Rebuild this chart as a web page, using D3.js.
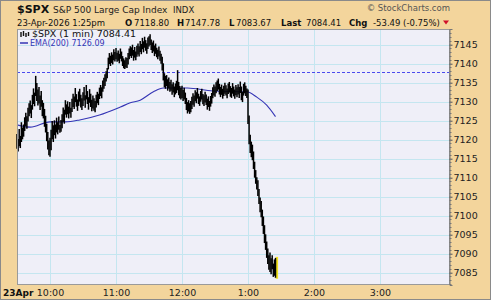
<!DOCTYPE html>
<html>
<head>
<meta charset="utf-8">
<script src="https://cdn.jsdelivr.net/npm/d3@7"></script>
<style>
  body { margin: 0; background: #fff; }
  svg { display: block; }
  text { font-family: "DejaVu Sans", sans-serif; }
</style>
</head>
<body>
<script>
// 1-minute bars from 9:30, highs and lows
var highs = [
  7121.5, 7120.2, 7122.8, 7121.0, 7124.6, 7123.2, 7124.0, 7125.9, 7127.1, 7126.2,
  7128.4, 7129.6, 7130.3, 7129.1, 7131.8, 7133.5, 7132.4, 7136.8, 7134.9, 7133.2,
  7133.9, 7131.6, 7132.8, 7130.4, 7129.7, 7128.1, 7126.3, 7124.2, 7122.0, 7119.8,
  7120.5, 7122.6, 7124.9, 7123.8, 7125.1, 7124.0, 7125.8, 7124.6, 7126.1, 7123.9,
  7125.2, 7126.7, 7128.5, 7127.9, 7130.4, 7129.3, 7130.1, 7128.7, 7129.9, 7128.4,
  7130.8, 7132.1, 7131.4, 7133.6, 7132.0, 7130.6, 7132.7, 7133.4, 7131.8, 7130.9,
  7132.5, 7133.9, 7131.7, 7134.4, 7132.8, 7131.2, 7133.3, 7132.1, 7130.5, 7131.6,
  7130.9, 7130.2, 7131.8, 7132.6, 7132.1, 7133.7, 7134.4, 7133.8, 7135.6, 7136.3,
  7137.2, 7138.0, 7138.9, 7141.6, 7142.8, 7142.1, 7143.0, 7142.4, 7143.8, 7143.1,
  7144.1, 7142.9, 7143.5, 7142.6, 7144.0, 7143.2, 7142.0, 7141.4, 7140.9, 7141.7,
  7141.5, 7142.8, 7144.0, 7144.6, 7144.3, 7145.0, 7143.6, 7144.4, 7143.2, 7144.7,
  7145.3, 7144.6, 7146.0, 7145.2, 7146.8, 7145.9, 7147.1, 7146.2, 7145.4, 7146.9,
  7147.2, 7147.78, 7146.4, 7145.6, 7146.1, 7144.8, 7145.3, 7144.2, 7143.7, 7144.5,
  7143.4, 7142.6, 7141.8, 7140.1, 7137.5, 7136.8, 7137.0, 7135.9, 7136.4, 7135.2,
  7135.8, 7134.6, 7135.1, 7134.0, 7134.8, 7135.5, 7138.3, 7135.2, 7134.1, 7133.6,
  7134.2, 7133.1, 7133.7, 7132.4, 7131.0, 7129.9, 7130.4, 7129.6, 7130.2, 7131.3,
  7132.2, 7131.6, 7133.0, 7132.5, 7133.6, 7132.1, 7131.4, 7132.8, 7133.4, 7132.0,
  7131.7, 7132.6, 7131.9, 7130.8, 7131.4, 7130.2, 7131.5, 7132.3, 7133.8, 7134.5,
  7134.0, 7135.1, 7135.6, 7136.1, 7134.7, 7133.9, 7134.5, 7133.4, 7134.2, 7135.0,
  7134.3, 7133.5, 7134.8, 7135.2, 7134.1, 7133.6, 7134.9, 7134.0, 7133.2, 7134.4,
  7133.8, 7134.6, 7133.9, 7135.3, 7134.0, 7132.6, 7134.7, 7135.1, 7134.2, 7133.5,
  7133.2, 7126.4, 7121.3, 7119.5, 7118.7, 7116.9, 7114.2, 7112.0, 7110.1, 7109.3,
  7107.0, 7104.8, 7103.9, 7101.6, 7099.8, 7097.5, 7095.1, 7093.2, 7091.4, 7089.6,
  7090.3, 7088.8, 7089.6, 7087.4, 7088.5, 7088.9
];
var lows = [
  7117.6, 7116.9, 7118.3, 7117.8, 7119.4, 7120.1, 7120.8, 7122.3, 7123.6, 7122.9,
  7124.8, 7126.2, 7126.9, 7125.7, 7127.9, 7129.4, 7128.8, 7131.5, 7130.2, 7129.0,
  7129.5, 7127.8, 7128.7, 7126.2, 7125.6, 7123.4, 7121.9, 7119.6, 7117.4, 7115.9,
  7115.5, 7117.2, 7120.1, 7119.4, 7121.2, 7120.3, 7121.9, 7121.4, 7122.6, 7121.8,
  7122.1, 7123.0, 7124.7, 7124.2, 7126.6, 7125.8, 7126.7, 7125.6, 7126.9, 7125.8,
  7127.3, 7128.6, 7128.1, 7129.9, 7128.7, 7127.6, 7128.9, 7130.0, 7128.5, 7127.8,
  7128.9, 7130.3, 7128.4, 7130.6, 7129.4, 7127.9, 7129.7, 7128.6, 7127.5, 7128.2,
  7127.6, 7127.2, 7128.5, 7129.6, 7129.1, 7130.7, 7131.5, 7130.9, 7132.6, 7133.4,
  7134.1, 7135.3, 7136.2, 7138.5, 7139.9, 7139.4, 7140.2, 7139.8, 7140.9, 7140.6,
  7141.2, 7140.5, 7140.8, 7140.1, 7141.3, 7140.6, 7139.4, 7138.8, 7138.6, 7139.0,
  7138.9, 7139.8, 7141.2, 7142.0, 7141.5, 7142.1, 7140.8, 7141.6, 7140.9, 7141.8,
  7142.4, 7141.9, 7143.1, 7142.5, 7143.8, 7143.0, 7144.2, 7143.4, 7142.6, 7143.9,
  7144.5, 7144.9, 7143.6, 7142.8, 7143.2, 7142.0, 7142.6, 7141.7, 7141.2, 7141.9,
  7140.8, 7140.0, 7138.2, 7135.6, 7133.8, 7133.4, 7134.1, 7132.9, 7133.5, 7132.6,
  7132.9, 7131.8, 7132.4, 7131.2, 7131.9, 7132.3, 7133.0, 7131.7, 7130.9, 7130.6,
  7131.0, 7130.2, 7130.6, 7129.4, 7127.8, 7126.9, 7127.4, 7126.8, 7127.2, 7128.1,
  7129.2, 7128.7, 7130.1, 7129.6, 7130.8, 7129.4, 7128.9, 7130.0, 7130.6, 7129.3,
  7128.9, 7129.8, 7129.1, 7127.9, 7128.6, 7127.6, 7128.7, 7129.5, 7130.9, 7131.6,
  7131.3, 7132.2, 7132.8, 7133.2, 7131.9, 7131.2, 7131.8, 7130.8, 7131.5, 7132.1,
  7131.6, 7130.9, 7132.0, 7132.4, 7131.3, 7131.0, 7132.1, 7131.4, 7130.8, 7131.7,
  7131.2, 7131.9, 7131.0, 7132.3, 7130.4, 7129.9, 7131.6, 7132.2, 7131.5, 7131.0,
  7124.1, 7118.8, 7116.5, 7115.4, 7114.6, 7112.3, 7110.0, 7108.4, 7106.9, 7105.2,
  7103.1, 7100.9, 7099.6, 7097.3, 7095.2, 7092.8, 7091.0, 7088.9, 7087.3, 7085.8,
  7085.2, 7084.6, 7085.9, 7083.9, 7084.2, 7083.67
];

// EMA(200) read at a few minutes after the open
var emaMinutes = [0, 12, 30, 44, 57, 75, 94, 103, 112, 124, 133, 155, 178, 209, 218, 227, 235];
var emaValues  = [7123.9, 7123.3, 7124.7, 7124.7, 7125.2, 7126.5, 7128.6, 7129.7, 7130.4,
                  7132.6, 7133.6, 7133.6, 7132.8, 7132.6, 7131.2, 7129.1, 7126.09];

var prevClose = 7137.90;
var priceTicks = [7085, 7090, 7095, 7100, 7105, 7110, 7115, 7120, 7125, 7130, 7135, 7140, 7145];
var timeTicks = [600, 660, 720, 780, 840, 900];
var timeLabels = ["10:00", "11:00", "12:00", "1:00", "2:00", "3:00"];

var W = 491, H = 300;
var plot = {left: 17, right: 450, top: 29, bottom: 285};
var openMin = 570; // 9:30

var svg = d3.select("body").append("svg")
    .attr("width", W)
    .attr("height", H);

// background
svg.append("rect")
    .attr("x", 0.5).attr("y", 0.5)
    .attr("width", W - 1).attr("height", H - 1)
    .attr("fill", "#f3d59c")
    .attr("stroke", "#8a8a8a");

var x = d3.scaleLinear()
    .domain([openMin, openMin + (plot.right - plot.left) / 1.1])
    .range([plot.left, plot.right]);

var y = d3.scaleLinear()
    .domain([7145 - (plot.bottom - 44.7) / 3.8, 7145 + (44.7 - plot.top) / 3.8])
    .range([plot.bottom, plot.top]);

// plot area
svg.append("rect")
    .attr("x", plot.left).attr("y", plot.top)
    .attr("width", plot.right - plot.left)
    .attr("height", plot.bottom - plot.top)
    .attr("fill", "#efeff8");

// gridlines
svg.append("g")
    .selectAll("line")
    .data(priceTicks)
    .enter().append("line")
    .attr("x1", plot.left).attr("x2", plot.right)
    .attr("y1", function(d) { return Math.round(y(d)) + 0.5; })
    .attr("y2", function(d) { return Math.round(y(d)) + 0.5; })
    .attr("stroke", "#c4e6f0");

svg.append("g")
    .selectAll("line")
    .data(timeTicks)
    .enter().append("line")
    .attr("y1", plot.top).attr("y2", plot.bottom)
    .attr("x1", function(d) { return Math.round(x(d)) + 0.5; })
    .attr("x2", function(d) { return Math.round(x(d)) + 0.5; })
    .attr("stroke", "#c4e6f0");

// previous close
svg.append("line")
    .attr("x1", plot.left).attr("x2", plot.right)
    .attr("y1", Math.round(y(prevClose)) + 0.5)
    .attr("y2", Math.round(y(prevClose)) + 0.5)
    .attr("stroke", "#4a4aee")
    .attr("stroke-dasharray", "3,2");

// EMA
var emaData = emaMinutes.map(function(m, i) { return [openMin + m, emaValues[i]]; });
svg.append("path")
    .datum(emaData)
    .attr("fill", "none")
    .attr("stroke", "#3535b5")
    .attr("stroke-width", 1.1)
    .attr("d", d3.line()
        .x(function(d) { return x(d[0]); })
        .y(function(d) { return y(d[1]); })
        .curve(d3.curveMonotoneX));

// price bars
var bars = highs.map(function(h, i) { return {t: openMin + i, h: h, l: lows[i]}; });
var last = bars[bars.length - 1];

svg.append("rect")
    .attr("x", x(last.t) + 0.2)
    .attr("y", y(last.h) - 1)
    .attr("width", 2.4)
    .attr("height", y(last.l) - y(last.h) + 2)
    .attr("fill", "#f0e020");

svg.append("g")
    .selectAll("line")
    .data(bars)
    .enter().append("line")
    .attr("x1", function(d) { return x(d.t); })
    .attr("x2", function(d) { return x(d.t); })
    .attr("y1", function(d) { return y(d.h); })
    .attr("y2", function(d) { return y(d.l); })
    .attr("stroke", "#000")
    .attr("stroke-width", 1.5);

// plot border
svg.append("rect")
    .attr("x", plot.left + 0.5).attr("y", plot.top + 0.5)
    .attr("width", plot.right - plot.left - 1)
    .attr("height", plot.bottom - plot.top - 1)
    .attr("fill", "none")
    .attr("stroke", "#9a9a9a");

// right axis
var yAxis = d3.axisRight(y)
    .tickValues(priceTicks)
    .tickSize(3)
    .tickPadding(1)
    .tickFormat(d3.format("d"));
var gy = svg.append("g")
    .attr("transform", "translate(" + (plot.right - 0.5) + ",0)")
    .call(yAxis);
gy.select(".domain").attr("stroke", "#777");
gy.selectAll(".tick line").attr("stroke", "#555");
gy.selectAll(".tick text")
    .attr("font-family", "Liberation Sans, Arial, sans-serif")
    .attr("font-size", 9.5)
    .attr("fill", "#222");

// minor ticks on the price axis
svg.append("g")
    .selectAll("line")
    .data(d3.range(7082, 7150))
    .enter().append("line")
    .attr("x1", plot.right - 0.5).attr("x2", plot.right + 1.5)
    .attr("y1", function(d) { return Math.round(y(d)) + 0.5; })
    .attr("y2", function(d) { return Math.round(y(d)) + 0.5; })
    .attr("stroke", "#777");

// bottom axis
var xAxis = d3.axisBottom(x)
    .tickValues(timeTicks)
    .tickSize(0)
    .tickPadding(4)
    .tickFormat(function(d, i) { return timeLabels[i]; });
var gx = svg.append("g")
    .attr("transform", "translate(0," + plot.bottom + ")")
    .call(xAxis);
gx.select(".domain").remove();
gx.selectAll(".tick text")
    .attr("font-family", "Liberation Sans, Arial, sans-serif")
    .attr("font-size", 9.5)
    .attr("fill", "#222");

svg.append("text")
    .attr("x", 3).attr("y", 296)
    .attr("font-weight", "bold")
    .attr("font-size", 9)
    .attr("fill", "#111")
    .text("23Apr");

// header
svg.append("text")
    .attr("x", 17).attr("y", 13)
    .attr("font-weight", "bold")
    .attr("font-size", 11)
    .attr("fill", "#111")
    .text("$SPX");
svg.append("text")
    .attr("x", 53).attr("y", 12.5)
    .attr("font-size", 9)
    .attr("fill", "#222")
    .text("S&P 500 Large Cap Index");
svg.append("text")
    .attr("x", 173).attr("y", 12.5)
    .attr("font-size", 8.5)
    .attr("fill", "#222")
    .text("INDX");
svg.append("text")
    .attr("x", 450).attr("y", 11)
    .attr("text-anchor", "end")
    .attr("font-size", 8.5)
    .attr("fill", "#555")
    .text("\u00a9 StockCharts.com");

var quote = [
  {x: 17,  t: "23-Apr-2026 1:25pm", b: false},
  {x: 125, t: "O", b: true},
  {x: 134, t: "7118.80", b: false},
  {x: 177, t: "H", b: true},
  {x: 185, t: "7147.78", b: false},
  {x: 229, t: "L", b: true},
  {x: 236, t: "7083.67", b: false},
  {x: 281, t: "Last", b: true},
  {x: 306, t: "7084.41", b: false},
  {x: 349, t: "Chg", b: true},
  {x: 373, t: "-53.49 (-0.75%)", b: false}
];
svg.append("g")
    .selectAll("text")
    .data(quote)
    .enter().append("text")
    .attr("x", function(d) { return d.x; })
    .attr("y", 25.5)
    .attr("font-size", 8.5)
    .attr("font-weight", function(d) { return d.b ? "bold" : "normal"; })
    .attr("fill", "#111")
    .text(function(d) { return d.t; });

svg.append("path")
    .attr("d", "M443,20.5 L449,20.5 L446,24.5 Z")
    .attr("fill", "#d0102a");

// legend
var lg = svg.append("g");
lg.append("path")
    .attr("d", "M21,32V37M23.5,31V36M26,33V37M28.5,32V36")
    .attr("stroke", "#111")
    .attr("stroke-width", 1.4);
lg.append("text")
    .attr("x", 32).attr("y", 37)
    .attr("font-family", "DejaVu Sans Mono, monospace")
    .attr("font-size", 9.5)
    .attr("fill", "#111")
    .text("$SPX (1 min) 7084.41");
lg.append("line")
    .attr("x1", 20).attr("x2", 28)
    .attr("y1", 43).attr("y2", 43)
    .attr("stroke", "#3535b5")
    .attr("stroke-width", 1.5);
lg.append("text")
    .attr("x", 30).attr("y", 46)
    .attr("font-size", 8)
    .attr("fill", "#3535b5")
    .text("EMA(200) 7126.09");
</script>
</body>
</html>
